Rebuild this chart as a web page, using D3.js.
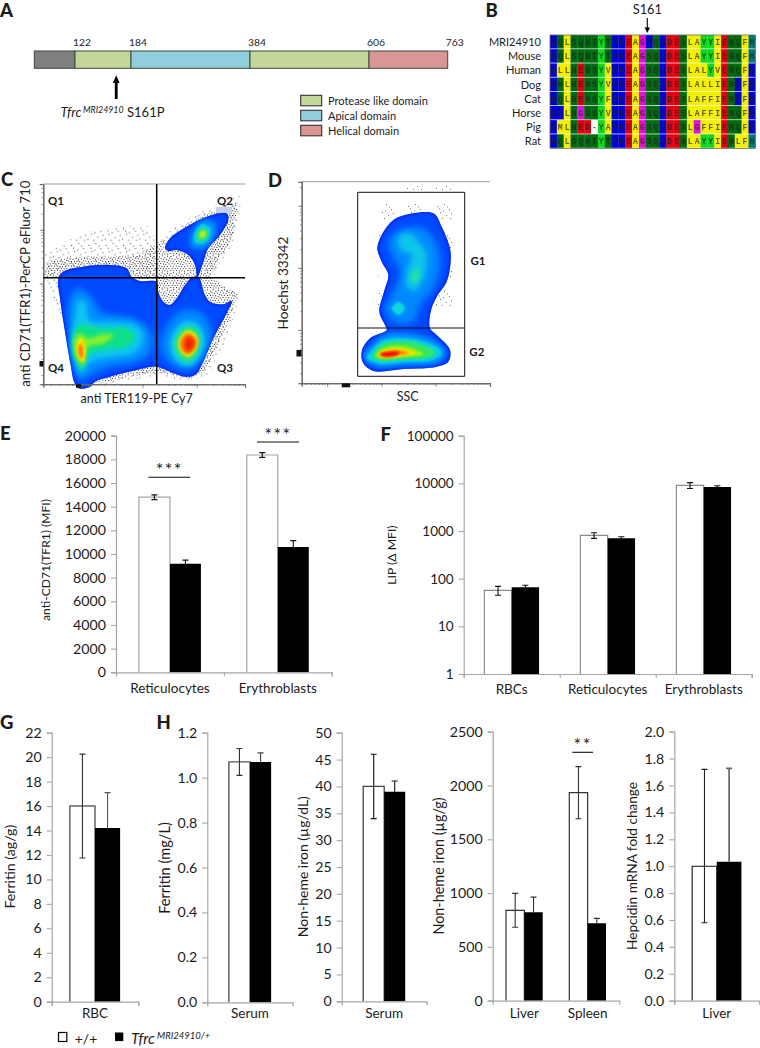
<!DOCTYPE html>
<html><head><meta charset="utf-8">
<script src="https://cdn.jsdelivr.net/npm/d3@7"></script>
<style>
html,body{margin:0;padding:0;background:#fff}
svg{display:block}
text{font-family:Lato,"Open Sans",sans-serif;fill:#1c1c1c}
</style></head><body>
<svg id="c" width="760" height="1048"></svg>
<script>
/* ---------- data ---------- */
const domainResidues=[1,122,184,384,606,763];
const domainNames=["n","Protease like domain","Apical domain","Protease like domain","Helical domain"];
const legendNames=["Protease like domain","Apical domain","Helical domain"];
const seqNames=["MRI24910","Mouse","Human","Dog","Cat","Horse","Pig","Rat"];
const seqs=["RQLSQNTYTPREAGPQKDESLAYYIENQFH","RQLSQNTYTPREAGSQKDESLAYYIENQFH","KLLNENSYVPREAGSQKDENLALYVENQFR","RWLNENSYVPREAGSQKDESLALLIENRFR","RQLNENSYFPREAGSQKDESLAFFIENRFR","KRLNGNSYVPREAGSQKDESLAFFIENQFR","KMLNED-YAPREAGSQKDESLGFFIENQFR","RQLSQNTYTPREAGSQKDENLAYYIENLFH"];

const eCats=["Reticulocytes","Erythroblasts"], eWT=[14800,18370], eMut=[9180,10590], eWTerr=[200,200], eMutErr=[300,540], eTicks=d3.range(0,20001,2000);
const fCats=["RBCs","Reticulocytes","Erythroblasts"], fWT=[57,811,9080], fMut=[66,702,8370], fWTerr=[12,110,1300], fMutErr=[7,55,550], fTicks=[1,10,100,1000,10000,100000];
const gCats=["RBC"], gWT=[16], gMut=[14.2], gWTerr=[4.25], gMutErr=[2.9], gTicks=d3.range(0,23,2);
const h1Cats=["Serum"], h1WT=[1.07], h1Mut=[1.07], h1WTerr=[0.06], h1MutErr=[0.04], h1Ticks=[0,0.2,0.4,0.6,0.8,1.0,1.2];
const h2Cats=["Serum"], h2WT=[40], h2Mut=[39], h2WTerr=[6], h2MutErr=[2], h2Ticks=d3.range(0,51,5);
const h3Cats=["Liver","Spleen"], h3WT=[840,1933], h3Mut=[821,719], h3WTerr=[157,242], h3MutErr=[142,46], h3Ticks=d3.range(0,2501,500);
const h4Cats=["Liver"], h4WT=[1.0], h4Mut=[1.033], h4WTerr=[0.42], h4MutErr=[0.69], h4Ticks=[0,0.2,0.4,0.6,0.8,1.0,1.2,1.4,1.6,1.8,2.0];

/* density-plot outlines in a 3x crop coordinate system */
const cMain=[[175,340],[190,320],[250,305],[330,300],[380,310],[395,335],[420,348],[470,350],[475,380],[490,410],[510,420],[530,400],[555,360],[575,338],[595,335],[615,390],[630,410],[670,418],[695,408],[680,445],[640,520],[610,590],[585,630],[555,635],[510,620],[470,605],[410,615],[330,635],[285,650],[270,665],[235,670],[222,650],[212,600],[195,500],[180,400]];
const cQ2=[[495,250],[510,220],[560,185],[620,155],[680,145],[685,165],[660,210],[625,250],[610,290],[600,320],[592,338],[585,300],[565,270],[530,255],[505,258]];
const cQ4a=[[205,420],[230,370],[270,390],[305,440],[400,460],[455,505],[450,565],[400,595],[330,605],[270,630],[240,645],[222,600],[208,500]];
const cQ4b=[[225,450],[235,405],[258,415],[268,465],[340,470],[405,478],[430,510],[408,562],[330,578],[270,592],[245,628],[225,590],[215,520]];
const cQ4c=[[218,510],[240,480],[300,490],[380,490],[405,515],[380,545],[310,555],[265,570],[245,615],[225,580]];
const cQ4d=[[222,530],[240,505],[262,520],[275,520],[300,510],[340,510],[310,535],[265,545],[250,600],[228,575]];
const cQ4e=[[230,540],[242,520],[255,545],[250,590],[235,575]];
const cQ4f=[[235,550],[243,535],[250,560],[245,582],[237,570]];
const cQ3a=[[490,500],[540,440],[600,440],[635,500],[615,570],[570,612],[520,602],[485,560]];
const cQ3b=[[515,510],[550,470],[592,475],[615,520],[598,578],[565,604],[528,588],[510,550]];
const cQ3c=[[528,520],[555,487],[585,490],[600,525],[590,565],[565,590],[538,575],[525,545]];
const cQ3d=[[535,530],[560,497],[585,505],[595,530],[585,560],[565,575],[545,565]];
const cQ3e=[[540,530],[562,505],[582,515],[590,530],[580,555],[565,568],[548,558]];
const cQ3f=[[552,530],[565,512],[580,522],[585,535],[575,555],[562,560],[552,548]];
const cQ2a=[[570,215],[606,165],[645,175],[640,225],[606,252],[575,245]];
const cQ2b=[[582,210],[606,178],[632,190],[628,220],[606,238],[585,232]];
const cQ2c=[[590,208],[608,190],[625,200],[620,218],[604,228],[592,222]];
const cQ2d=[[598,207],[610,197],[618,205],[612,216],[602,218]];
const cDotsDense=[
 [[135,335],[137,305],[150,285],[200,280],[280,275],[350,275],[430,265],[465,240],[470,340],[420,345],[395,330],[380,305],[330,298],[250,303],[190,320],[175,338]],
 [[470,335],[470,235],[495,222],[490,255],[530,255],[565,270],[585,300],[592,335],[575,338],[555,360],[530,400],[510,420],[490,410],[475,380]],
 [[685,145],[705,110],[712,135],[695,225],[655,285],[632,335],[675,368],[716,385],[705,410],[670,418],[630,410],[610,370],[600,335],[610,290],[625,250],[660,210]],
 [[495,250],[510,222],[560,178],[620,145],[680,135],[680,145],[620,155],[560,185],[510,220]],
 [[285,650],[330,635],[410,612],[470,603],[510,618],[555,635],[585,630],[600,610],[640,520],[680,445],[695,408],[703,420],[672,500],[615,622],[560,642],[480,622],[400,632],[300,655]]];
const cDotsSparse=[
 [[135,335],[133,270],[240,205],[330,190],[440,180],[470,220],[470,340],[300,300]],
 [[470,230],[500,205],[560,165],[620,130],[670,118],[718,88],[722,130],[700,235],[660,295],[640,335],[682,368],[722,385],[712,415],[690,500],[625,632],[560,650],[480,632],[400,645],[300,662],[285,650],[470,600],[600,610],[695,408],[640,340],[600,300]],
 [[135,335],[175,340],[180,400],[195,480],[172,430],[152,370]]];
const dMain=[[435,150],[520,145],[545,185],[570,250],[572,290],[560,350],[530,395],[512,440],[510,490],[530,510],[570,555],[565,590],[530,605],[430,612],[340,618],[310,595],[305,560],[330,520],[380,495],[375,480],[358,440],[372,380],[385,330],[365,290],[352,250],[365,210],[400,165]];
const dUp1=[[420,195],[490,190],[530,240],[540,300],[520,370],[480,420],[460,470],[400,470],[375,430],[400,380],[420,320],[395,270],[385,230]];
const dUp2=[[420,210],[450,205],[480,235],[500,265],[490,340],[460,380],[440,360],[440,320],[455,270],[430,260],[415,240]];
const dUp3=[[395,430],[415,410],[435,430],[415,450]];
const dUp4=[[450,340],[470,310],[480,330],[465,355]];
const dLow1=[[330,545],[370,510],[450,505],[530,530],[558,565],[530,595],[430,602],[350,605],[315,585],[312,565]];
const dLow2=[[335,555],[370,525],[450,520],[530,545],[545,565],[520,585],[430,592],[360,597],[320,580]];
const dLow3=[[345,560],[370,537],[450,530],[510,550],[525,565],[500,578],[430,582],[365,587],[338,575]];
const dLow4=[[350,565],[375,548],[440,545],[480,560],[490,567],[440,575],[370,580],[350,575]];
const dLow5=[[356,566],[390,553],[440,556],[465,565],[420,572],[365,577]];
const dLow6=[[358,566],[390,557],[430,558],[445,565],[410,571],[368,575]];
const dLow7=[[362,566],[395,560],[418,562],[412,570],[370,574]];
const dDots=[[[420,55],[600,65],[612,190],[605,400],[520,480],[505,430],[570,300],[545,170],[400,150],[340,260],[370,400],[350,480],[325,470],[325,240],[385,95]]];

/* ---------- shared ---------- */
const svg=d3.select("#c");
const defs=svg.append("defs");
[["b1",1],["b3",3],["b2",2],["b4",2.2]].forEach(([id,s])=>defs.append("filter").attr("id",id).attr("x","-50%").attr("y","-50%").attr("width","200%").attr("height","200%").append("feGaussianBlur").attr("stdDeviation",s));
defs.append("filter").attr("id","soft").append("feGaussianBlur").attr("stdDeviation",0.28);
const denseTile=[[0.5,1],[3.2,0.3],[6,1.6],[8.7,0.4],[11.4,1.9],[14,0.8],[16,2.6],[1.7,3.4],[4.6,3.9],[7.6,3.2],[10,3.8],[12.9,3.7],[15.2,5],[0.3,5.8],[2.9,6.1],[6,6],[8.6,5.7],[11.2,6.4],[13.6,6.9],[1.6,8.2],[4.4,8.5],[7.3,8.1],[9.9,8.6],[12.4,9],[15.6,8.5],[0.2,10.5],[3,10.7],[5.9,10.6],[8.5,10.9],[11,11.2],[14.1,11],[1.8,12.9],[4.7,13],[7.2,12.8],[10,13.4],[12.7,13.3],[15.4,13],[0.4,15],[3.3,15.3],[6,15.1],[8.8,15.6],[11.5,15.4],[14.2,15.7]];
const sparseTile=[[2,3],[9,1],[14,6],[5,9],[11,12],[1,14],[7,15],[15,15],[12,3.5],[4,5.5],[8,7.5],[16,10]];
function tile(id,size,pts,col){const p=defs.append("pattern").attr("id",id).attr("patternUnits","userSpaceOnUse").attr("width",size).attr("height",size);
 p.selectAll("rect").data(pts).join("rect").attr("x",d=>d[0]).attr("y",d=>d[1]).attr("width",.9).attr("height",.9).attr("fill",col);}
tile("dense",17,denseTile,"#000");tile("sparse",17.3,sparseTile,"#111");tile("grey",29,sparseTile,"#555");

function t(g,s,x,y,size,o={}){const e=g.append("text").attr("x",x).attr("y",y).attr("font-size",size).text(s);
 if(o.anchor)e.attr("text-anchor",o.anchor);if(o.bold)e.attr("font-weight",o.bold);if(o.italic)e.attr("font-style","italic");
 if(o.rot!=null)e.attr("transform",`rotate(${o.rot} ${x} ${y})`);return e;}
const root=svg.append("g");
const LETTER=18.5;
[["A",0,17],["B",485.5,17],["C",1,186],["D",268,187],["E",0,440],["F",380.5,441],["G",0,729],["H",156.5,729]].forEach(d=>t(root,d[0],d[1],d[2],LETTER,{bold:900}));

/* ---------- A ---------- */
(function(){const g=svg.append("g");
 const x=d3.scaleLinear().domain(domainResidues).range([34.3,75,131,250,369,447.7]);
 const color=d3.scaleOrdinal(["n","Protease like domain","Apical domain","Helical domain"],["#7f7f7f","#c3d69b","#92cddc","#d99694"]);
 g.selectAll("rect.d").data(domainNames).join("rect").attr("x",(d,i)=>x(domainResidues[i])).attr("y",51).attr("width",(d,i)=>x(domainResidues[i+1])-x(domainResidues[i])).attr("height",17.3).attr("fill",d=>color(d)).attr("stroke","#3a4a3a").attr("stroke-width",1);
 domainResidues.slice(1).forEach(r=>t(g,r,x(r)+7,46,10.3,{anchor:"middle"}));
 const ax=x(161)+6;
 g.append("path").attr("d",`M${ax-1.4},99V83H${ax-3.4}L${ax},75.3L${ax+3.4},83H${ax+1.4}V99Z`).attr("fill","#000");
 t(g,"Tfrc",60.5,117,13.2,{italic:1});
 t(g,"MRI24910",83,112.5,8.8,{italic:1});
 t(g,"S161P",127,117,13);
 const ly=d3.scaleBand().domain(legendNames).range([95,140]);
 g.selectAll("rect.l").data(legendNames).join("rect").attr("x",300.7).attr("y",d=>ly(d)+.3).attr("width",21).attr("height",10.5).attr("fill",d=>color(d)).attr("stroke","#333").attr("stroke-width",1.1);
 legendNames.forEach(n=>t(g,n,328,ly(n)+10.3,11));
})();

/* ---------- B ---------- */
(function(){const g=svg.append("g");
 const cols=d3.range(seqs[0].length);
 const x=d3.scaleBand().domain(cols).range([550,755.3]);
 const y=d3.scaleBand().domain(seqNames).range([35,148.5]);
 const col=c=>"KRP".includes(c)?"#0000d8":"DE".includes(c)?"#e0000f":c==="G"?"#e010e0":"ALIVFM".includes(c)?"#f4ee00":c==="Y"?"#10d820":c==="H"?"#007878":c==="-"?"#fff":"#006a10";
 seqNames.forEach((n,ri)=>{
  t(g,n,541,y(n)+y.bandwidth()/2+4,11,{anchor:"end"});
  [...seqs[ri]].forEach((c,i)=>{
   g.append("rect").attr("x",x(i)).attr("y",y(n)).attr("width",x.bandwidth()+.3).attr("height",y.bandwidth()-.7).attr("fill",col(c));
   g.append("text").attr("x",x(i)+x.bandwidth()/2).attr("y",y(n)+y.bandwidth()/2+2.8).attr("text-anchor","middle").attr("font-size",8.2).attr("font-weight",700).style("font-family","Liberation Mono").style("fill","#222").style("opacity",.7).text(c);
  });
 });
 g.append("rect").attr("x",550).attr("y",35).attr("width",205.3).attr("height",113.5).attr("fill","none").attr("stroke","#666").attr("stroke-width",.8);
 t(g,"S161",647.3,13.5,12.8,{anchor:"middle"});
 g.append("path").attr("d","M647.3,18V30").attr("stroke","#000").attr("stroke-width",1.1);
 g.append("path").attr("d","M644.6,27.5L647.3,33L650,27.5Z").attr("fill","#000");
})();

/* ---------- flow plots ---------- */
function flow(opts){
 const g=svg.append("g");
 const sx=d3.scaleLinear().domain([0,3]).range([opts.ox,opts.ox+1]);
 const sy=d3.scaleLinear().domain([0,3]).range([opts.oy,opts.oy+1]);
 const line=d3.line().x(d=>sx(d[0])).y(d=>sy(d[1])).curve(d3.curveCatmullRomClosed.alpha(.5));
 const poly=d3.line().x(d=>sx(d[0])).y(d=>sy(d[1])).curve(d3.curveLinearClosed);
 (opts.sparse||[]).forEach(p=>g.append("path").attr("d",poly(p)).attr("fill","url(#sparse)"));
 (opts.dense||[]).forEach(p=>g.append("path").attr("d",poly(p)).attr("fill","url(#dense)"));
 (opts.greyDots||[]).forEach(p=>g.append("path").attr("d",poly(p)).attr("fill","url(#grey)"));
 const cid="clip"+opts.ox;
 const cp=defs.append("clipPath").attr("id",cid);
 opts.outer.forEach(p=>cp.append("path").attr("d",line(p)));
 opts.outer.forEach(p=>g.append("path").attr("d",line(p)).attr("fill","#0010e8").attr("filter","url(#soft)"));
 const inner=g.append("g").attr("clip-path",`url(#${cid})`);
 opts.outer.forEach(p=>inner.append("path").attr("d",line(p)).attr("fill","#0048ff").attr("filter","url(#b4)"));
 opts.layers.forEach(([p,c,b])=>inner.append("path").attr("d",line(p)).attr("fill",c).attr("filter",`url(#${b})`));
 const axc="#666";
 const yl=d3.scaleLog().domain(opts.yDom).range(opts.yRange);
 const xl=d3.scaleLog().domain(opts.xDom).range(opts.xRange);
 const minors=(dom)=>{const a=[];for(let k=0;k<7;k++)for(let m=1;m<10;m++){const v=m*10**k;if(v>=dom[0]&&v<=dom[1])a.push(v);}return a;};
 const major=[100,1000,10000,100000];
 const draw=(scale,vals,len,orient,tr)=>{const a=(orient==="l"?d3.axisLeft(scale):d3.axisBottom(scale)).tickValues(vals).tickSize(len).tickFormat("");
  const s=g.append("g").attr("transform",tr).call(a);s.selectAll("path").attr("stroke",axc).attr("stroke-width",1.1);s.selectAll("line").attr("stroke",axc).attr("stroke-width",.7);};
 draw(yl,minors(opts.yDom),1.7,"l",`translate(${opts.xRange[0]},0)`);
 draw(yl,major.filter(v=>v>=opts.yDom[0]&&v<=opts.yDom[1]),3.6,"l",`translate(${opts.xRange[0]},0)`);
 draw(xl,minors(opts.xDom),1.7,"b",`translate(0,${opts.yRange[0]})`);
 draw(xl,major.filter(v=>v>=opts.xDom[0]&&v<=opts.xDom[1]),3.6,"b",`translate(0,${opts.yRange[0]})`);
 g.append("path").attr("d",`M${opts.xRange[0]},${opts.yRange[1]}H${opts.xRange[1]}`).attr("stroke","#999").attr("stroke-width",1);
 return g;
}
(function(){
 const g=flow({ox:0,oy:165,outer:[cMain,cQ2],dense:cDotsDense,sparse:cDotsSparse,
  layers:[[cQ4a,"#0088ff","b3"],[cQ3a,"#0088ff","b3"],[cQ4b,"#08c8f0","b3"],[cQ4c,"#10e088","b2"],[cQ4d,"#90f020","b2"],[cQ4e,"#ffe000","b1"],[cQ4f,"#ff8010","b1"],
   [cQ3b,"#08c8f0","b2"],[cQ3c,"#30e860","b2"],[cQ3d,"#e8e800","b1"],[cQ3e,"#ff9000","b1"],[cQ3f,"#f02000","b2"],
   [cQ2a,"#0090ff","b2"],[cQ2b,"#10d0e0","b1"],[cQ2c,"#30e860","b1"],[cQ2d,"#c8e820","b1"]],
  yDom:[135,708000],yRange:[384.3,184],xDom:[14.8,77600],xRange:[43.3,245]});
 g.append("rect").attr("x",216).attr("y",207).attr("width",16).attr("height",6).attr("fill","#c8cff0");
 g.append("rect").attr("x",39.5).attr("y",361).attr("width",3.8).attr("height",5.5).attr("fill","#111");
 g.append("rect").attr("x",76).attr("y",384.3).attr("width",5).attr("height",3.5).attr("fill","#111");
 g.append("path").attr("d","M156.7,184V384M43.3,277.7H245").attr("stroke","#000").attr("stroke-width",1.5).attr("fill","none");
 [["Q1",48,205],["Q2",217,205],["Q3",217,371.5],["Q4",48,371.5]].forEach(d=>t(g,d[0],d[1],d[2],11.5,{bold:700}));
 t(g,"anti CD71(TFR1)-PerCP eFluor 710",27,283.7,13.3,{anchor:"middle",rot:-90}).attr("dominant-baseline","middle");
 t(g,"anti TER119-PE Cy7",136.7,403.3,12.5,{anchor:"middle"});
})();
(function(){
 const g=flow({ox:260,oy:165,outer:[dMain],greyDots:dDots,
  layers:[[dUp1,"#0088ff","b3"],[dUp2,"#08c8e8","b3"],[dUp3,"#08d8e0","b1"],[dUp4,"#20e0a0","b2"],
   [dLow1,"#0090ff","b2"],[dLow2,"#08d0e0","b1"],[dLow3,"#30e860","b1"],[dLow4,"#b0f000","b1"],[dLow5,"#ffe000","b1"],[dLow6,"#ff8000","b1"],[dLow7,"#f01000","b1"]],
  yDom:[138,243800],yRange:[383.3,181.7],xDom:[34,100000],xRange:[301.7,490]});
 g.append("rect").attr("x",296.5).attr("y",350).attr("width",5).attr("height",6.5).attr("fill","#111");
 g.append("rect").attr("x",341.7).attr("y",383.3).attr("width",8.5).attr("height",4).attr("fill","#111");
 g.append("path").attr("d","M357.7,192.3H464.7V376.3H357.7ZM357.7,328H464.7").attr("fill","none").attr("stroke","#111").attr("stroke-width",1);
 [["G1",470.5,265],["G2",469.3,355.7]].forEach(d=>t(g,d[0],d[1],d[2],11.5,{bold:700}));
 t(g,"Hoechst 33342",285,283,13.6,{anchor:"middle",rot:-90}).attr("dominant-baseline","middle");
 t(g,"SSC",407.7,401,12.5,{anchor:"middle"});
})();

/* ---------- bar charts ---------- */
const TICKFS=14.2;
function bars(o){
 const g=svg.append("g");
 const y=(o.log?d3.scaleLog():d3.scaleLinear()).domain(o.dom).range([o.y1,o.y0]);
 const xEdge=d3.scaleLinear().domain([0,o.cats.length]).range([o.x0,o.x1]);
 const x=d3.scaleBand().domain(o.cats).range([o.x0,o.x1]);
 const inner=d3.scaleBand().domain([0,1]).range([(1-o.frac)/2*x.step(),(1+o.frac)/2*x.step()]);
 const ax=d3.axisLeft(y).tickValues(o.ticks).tickSize(5).tickPadding(5).tickFormat(o.fmt||(d=>d));
 const ga=g.append("g").attr("transform",`translate(${o.x0},0)`).call(ax);
 ga.selectAll("path").attr("stroke",o.axis||"#a6a6a6").attr("stroke-width",1.2);
 ga.selectAll("line").attr("stroke",o.axis||"#a6a6a6").attr("stroke-width",1.1);
 ga.selectAll("text").attr("font-size",o.fs||TICKFS).style("fill","#1c1c1c");
 const series=[o.wt,o.mut], errs=[o.wtErr,o.mutErr];
 series.forEach((vals,si)=>{vals.forEach((v,i)=>{
  const bx=x(o.cats[i])+inner(si),bw=inner.bandwidth();
  g.append("path").attr("d",si?`M${bx},${o.y1}V${y(v)}H${bx+bw}V${o.y1}Z`:`M${bx},${o.y1}V${y(v)}H${bx+bw}V${o.y1}`).attr("fill",si?"#000":"#fff").attr("stroke",si?"none":(o.wtStroke||"#8c8c8c")).attr("stroke-width",o.wtW||1.2);
 });});
 series.forEach((vals,si)=>{vals.forEach((v,i)=>{
  const bx=x(o.cats[i])+inner(si),bw=inner.bandwidth(),cx=bx+bw/2,e=errs[si][i];
  const top=o.up?o.up[si][i]:v+e, low=si?v:(o.low?o.low[i]:v-e);
  const c=(o.errC&&o.errC[si])||"#111",w=(o.errW&&o.errW[si])||1.1;
  g.append("path").attr("d",`M${cx},${y(low)}V${y(top)}M${cx-o.cap},${y(top)}H${cx+o.cap}`+(si?"":`M${cx-o.cap},${y(low)}H${cx+o.cap}`)).attr("stroke",c).attr("stroke-width",w).attr("fill","none");
 });});
 const xa=g.append("g").attr("transform",`translate(0,${o.y1})`).call(d3.axisBottom(xEdge).tickValues(o.edge===false?[]:d3.range(o.cats.length+1)).tickSize(4).tickFormat(""));
 xa.selectAll("path").attr("stroke",o.axis||"#a6a6a6").attr("stroke-width",1.2);
 xa.selectAll("line").attr("stroke",o.axis||"#a6a6a6").attr("stroke-width",1.1);
 o.cats.forEach(c=>t(g,c,x(c)+x.step()/2+(o.labDx||0),o.labY,o.labFs||13.5,{anchor:"middle"}));
 t(g,o.ylabel,o.ylx,o.yly,o.ylFs||13,{anchor:"middle",rot:-90}).attr("dominant-baseline","middle");
 (o.sig||[]).forEach(s=>{g.append("path").attr("d",`M${s.x0},${s.y}H${s.x1}`).attr("stroke","#111").attr("stroke-width",1.1);
  t(g,s.s,(s.x0+s.x1)/2,s.y+s.dy,s.fs||18,{anchor:"middle"}).attr("letter-spacing",1.4);});
}
const f1=d3.format(".1f");
bars({cats:eCats,wt:eWT,mut:eMut,wtErr:eWTerr,mutErr:eMutErr,ticks:eTicks,dom:[0,20000],x0:116,x1:331.7,y0:435.7,y1:672.3,frac:.575,cap:3,labY:693.3,ylabel:"anti-CD71(TFR1) (MFI)",ylx:46.7,yly:560,ylFs:12.1,wtStroke:"#a6a6a6",
 sig:[{x0:148.3,x1:190.3,y:477.3,s:"***",dy:-1},{x0:257,x1:299,y:442,s:"***",dy:-1}]});
bars({cats:fCats,wt:fWT,mut:fMut,wtErr:fWTerr,mutErr:fMutErr,ticks:fTicks,dom:[1,100000],log:true,x0:463.7,x1:751.7,y0:435.7,y1:674,frac:.57,cap:3,labY:694.3,ylabel:"LIP (Δ MFI)",ylx:393.3,yly:555,ylFs:12.2,fs:13.5});
bars({cats:gCats,wt:gWT,mut:gMut,wtErr:gWTerr,mutErr:gMutErr,ticks:gTicks,dom:[0,22],x0:51.7,x1:138.3,y0:732.7,y1:1001.7,frac:.58,cap:3,labY:1018.3,ylabel:"Ferritin (ag/g)",ylx:11.7,yly:866.7,ylFs:14.2,wtStroke:"#666",wtW:1.5,errC:["#333","#555"]});
bars({cats:h1Cats,wt:h1WT,mut:h1Mut,wtErr:h1WTerr,mutErr:h1MutErr,ticks:h1Ticks,fmt:f1,dom:[0,1.2],x0:207.3,x1:292.7,y0:732.7,y1:1002.3,frac:.495,cap:3,edge:false,labY:1018.3,ylabel:"Ferritin (mg/L)",ylx:166,yly:868,ylFs:14.6,wtStroke:"#555",wtW:1.4,errC:["#333","#444"]});
bars({cats:h2Cats,wt:h2WT,mut:h2Mut,wtErr:h2WTerr,mutErr:h2MutErr,ticks:h2Ticks,dom:[0,50],x0:341.7,x1:426.7,y0:732.7,y1:1001.3,frac:.494,cap:3,edge:false,labY:1018.3,ylabel:"Non-heme iron (µg/dL)",ylx:304.3,yly:866.7,ylFs:14,wtStroke:"#444",wtW:1.3});
bars({cats:h3Cats,wt:h3WT,mut:h3Mut,wtErr:h3WTerr,mutErr:h3MutErr,ticks:h3Ticks,dom:[0,2500],x0:492.7,x1:619.3,y0:731.7,y1:1000.7,frac:.58,cap:3,edge:false,labY:1018.3,ylabel:"Non-heme iron (µg/g)",ylx:440,yly:866,ylFs:14.4,wtStroke:"#333",wtW:1.2,errC:["#333","#333"],
 sig:[{x0:572.3,x1:593,y:752.3,s:"**",dy:-1}]});
bars({cats:h4Cats,wt:h4WT,mut:h4Mut,wtErr:h4WTerr,mutErr:h4MutErr,up:[[1.72],[1.727]],low:[0.58],ticks:h4Ticks,fmt:f1,dom:[0,2],x0:674.3,x1:759.3,y0:731.7,y1:1000.7,frac:.58,cap:3,labY:1018.3,ylabel:"Hepcidin mRNA fold change",ylx:634,yly:866,ylFs:13.6,wtStroke:"#111",wtW:1.1,errC:["#222","#666"],errW:[1.1,1.7]});

/* ---------- shared legend ---------- */
(function(){const g=svg.append("g");
 g.append("rect").attr("x",58.5).attr("y",1032.5).attr("width",8.3).attr("height",9).attr("fill","#fff").attr("stroke","#000").attr("stroke-width",1.2);
 t(g,"+/+",74.7,1043.5,14);
 g.append("rect").attr("x",115).attr("y",1032.5).attr("width",8.3).attr("height",8.6).attr("fill","#000");
 t(g,"Tfrc",131,1044,15,{italic:1});
 t(g,"MRI24910/+",157,1038.5,9.5,{italic:1});
})();
</script>
</body></html>
